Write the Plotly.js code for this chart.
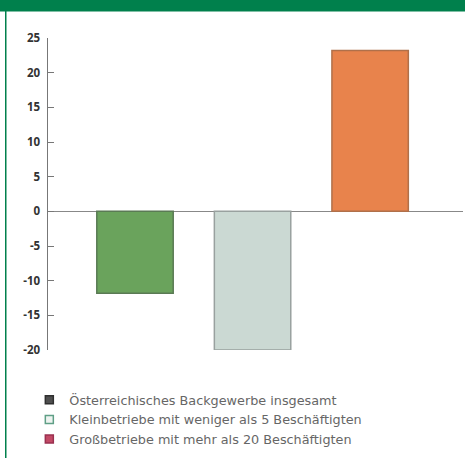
<!DOCTYPE html>
<html>
<head>
<meta charset="utf-8">
<script src="https://cdn.plot.ly/plotly-3.0.1.min.js"></script>
<style>html,body{margin:0;padding:0;background:#fff;}#chart{width:465px;height:458px;}</style>
</head>
<body>
<div id="chart"></div>
<script>
var categories = ["Österreichisches Backgewerbe insgesamt", "Kleinbetriebe mit weniger als 5 Beschäftigten", "Großbetriebe mit mehr als 20 Beschäftigten"];
var values = [-11.8, -20, 23.2];
var barColors = ["#6aa35c", "#cbd9d3", "#e8834c"];
var barLines = ["#5a7a54", "#99a19f", "#b0704a"];
var legendColors = ["#4f4f4f", "#eef3f0", "#c24a66"];
var legendLines = ["#2f2f2f", "#5f9f86", "#9a3050"];
var tickVals = [25, 20, 15, 10, 5, 0, -5, -10, -15, -20];
var tickText = ["25", "20", "15", "10", "5", "0", "-5", "-10", "-15", "-20"];

var traces = [{
  type: "bar",
  x: [0, 1, 2],
  y: values,
  width: 0.65,
  marker: {color: barColors, line: {color: barLines, width: 1.5}},
  showlegend: false,
  hoverinfo: "skip"
}];
for (var i = 0; i < categories.length; i++) {
  traces.push({
    type: "scatter",
    mode: "markers",
    x: [null], y: [null],
    name: categories[i],
    marker: {symbol: "square", size: 8, color: legendColors[i], line: {color: legendLines[i], width: 1.5}},
    showlegend: true
  });
}

var layout = {
  width: 465, height: 458,
  margin: {l: 48, r: 2, t: 38, b: 108},
  paper_bgcolor: "#ffffff",
  plot_bgcolor: "#ffffff",
  showlegend: true,
  xaxis: {
    range: [-0.74, 2.79],
    showticklabels: false, showgrid: false, zeroline: false, showline: false, ticks: ""
  },
  yaxis: {
    range: [-20, 25],
    tickvals: tickVals, ticktext: tickText,
    ticks: "inside", ticklen: 6, tickcolor: "#777", tickwidth: 1,
    showline: true, linecolor: "#777", linewidth: 1.5,
    showgrid: false,
    zeroline: true, zerolinecolor: "#888", zerolinewidth: 1.5,
    ticklabelstandoff: 4,
    tickfont: {family: "Open Sans", size: 11.5, color: "#333", weight: "bold"}
  },
  legend: {
    x: -0.045, xanchor: "left",
    y: -0.112, yanchor: "top",
    font: {family: "DejaVu Sans", size: 12.8, color: "#666"},
    bgcolor: "rgba(0,0,0,0)",
    tracegroupgap: 0
  },
  shapes: [
    {type: "rect", xref: "paper", yref: "paper", x0: -0.3, x1: 1.3, y0: 1.085, y1: 1.3, fillcolor: "#00804c", line: {width: 0}, layer: "above"},
    {type: "rect", xref: "paper", yref: "paper", x0: -0.1036, x1: -0.1, y0: -0.35, y1: 1.09, fillcolor: "#00804c", line: {width: 0}, layer: "above"}
  ]
};

Plotly.newPlot("chart", traces, layout, {displayModeBar: false, staticPlot: true});
</script>
</body>
</html>
